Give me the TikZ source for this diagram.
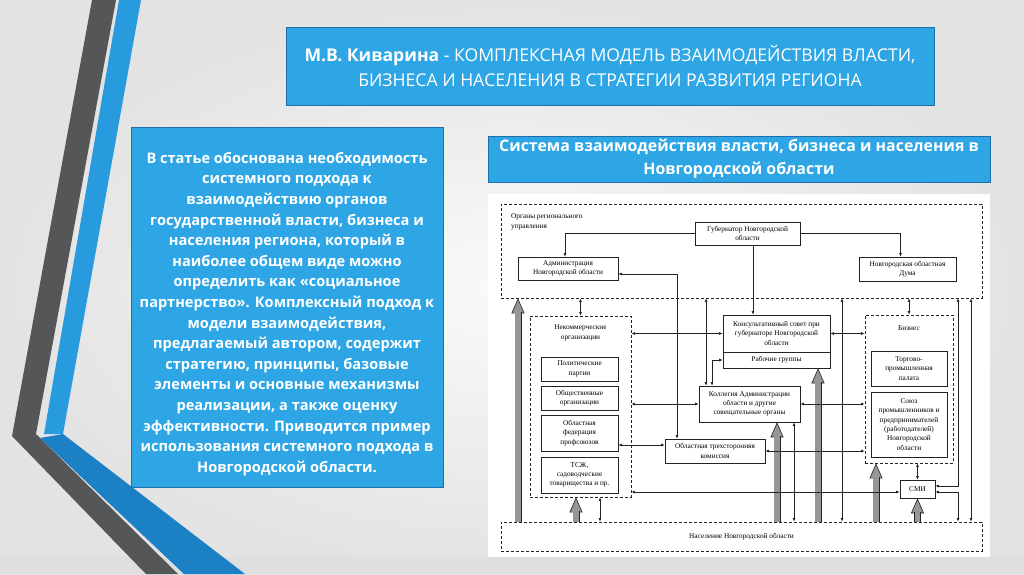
\documentclass[tikz,border=0pt]{standalone}
\usepackage{fontspec}
\setmainfont{Open Sans}
\newfontfamily\dfont{Liberation Serif}
\usetikzlibrary{arrows.meta}

\definecolor{slideblue}{RGB}{46,166,229}
\definecolor{edgeblue}{RGB}{30,110,170}
\definecolor{bandgray}{RGB}{85,86,88}
\definecolor{bandblue}{RGB}{40,155,222}
\definecolor{bandblue2}{RGB}{28,128,196}
\definecolor{arrowgray}{RGB}{150,150,150}
\definecolor{ink}{RGB}{35,35,35}

\tikzset{
  box/.style={draw=ink, line width=0.6pt, fill=white, inner sep=1pt,
    font=\dfont\fontsize{7.3}{9.3}\selectfont, align=center},
  grp/.style={draw=ink, line width=0.7pt, dash pattern=on 3pt off 2pt, inner sep=0pt},
  lbl/.style={font=\dfont\fontsize{7.3}{9.3}\selectfont, align=center, inner sep=0pt},
  lnk/.style={ink, line width=0.6pt, -{Latex[length=3.5pt,width=2.8pt]}},
  dlnk/.style={ink, line width=0.6pt, {Latex[length=3.5pt,width=2.8pt]}-{Latex[length=3.5pt,width=2.8pt]}},
  bluebox/.style={fill=slideblue, draw=edgeblue, line width=0.8pt, text=white, align=center}
}

\newcommand\fatarrow[2]{%
  \draw[ink, line width=0.6pt, -{Triangle[width=13pt,length=15pt,fill=arrowgray]}] #1 -- #2;
  \draw[ink, line width=7pt, shorten >=14pt] #1 -- #2;
  \draw[arrowgray, line width=5.6pt, shorten >=13pt] #1 -- #2;
}

\begin{document}
\begin{tikzpicture}[x=1pt,y=-1pt]
\useasboundingbox (0,0) rectangle (1024,574);
% background
\shade[inner color=gray!4, outer color=gray!22] (0,0) rectangle (1024,574);
\fill[gray!25] (0,557) rectangle (1024,574);
% side bands
\fill[bandgray] (92,0) -- (116,0) -- (36,434) -- (178,574) -- (146,574) -- (12,436) -- cycle;
\fill[bandblue] (119,0) -- (141,0) -- (63,434) -- (44,434) -- cycle;
\fill[bandblue2] (40,438) -- (63,434) -- (245,574) -- (184,574) -- cycle;

% title
\node[bluebox, minimum width=648pt, minimum height=78pt,
  font=\fontsize{17.6}{25}\selectfont] (title) at (610,66)
  {{\bfseries М.В. Киварина} - КОМПЛЕКСНАЯ МОДЕЛЬ ВЗАИМОДЕЙСТВИЯ ВЛАСТИ,\\
   БИЗНЕСА И НАСЕЛЕНИЯ В СТРАТЕГИИ РАЗВИТИЯ РЕГИОНА};

% left text
\node[bluebox, minimum width=312pt, minimum height=360pt] (abstract) at (287,307) {};
\node[text=white, align=center, font=\bfseries\fontsize{14.6}{20.6}\selectfont] (abstxt) at (287,314)
  {В статье обоснована необходимость\\
   системного подхода к\\
   взаимодействию органов\\
   государственной власти, бизнеса и\\
   населения региона, который в\\
   наиболее общем виде можно\\
   определить как «социальное\\
   партнерство». Комплексный подход к\\
   модели взаимодействия,\\
   предлагаемый автором, содержит\\
   стратегию, принципы, базовые\\
   элементы и основные механизмы\\
   реализации, а также оценку\\
   эффективности. Приводится пример\\
   использования системного подхода в\\
   Новгородской области.};

% subtitle
\node[bluebox, minimum width=502pt, minimum height=44pt,
  font=\bfseries\fontsize{15.9}{23}\selectfont] (subtitle) at (739,159)
  {Система взаимодействия власти, бизнеса и населения в\\
   Новгородской области};

% diagram sheet
\fill[white] (488,194) rectangle (990,557);

% groups
\node[grp, minimum width=481pt, minimum height=94pt] (org) at (741.5,251) {};
\node[lbl, align=left, anchor=west] (orgt) at (511,222) {Органы регионального\\управления};
\node[grp, minimum width=101pt, minimum height=181pt] (nko) at (580.5,406.5) {};
\node[lbl] (nkot) at (580.5,333) {Некоммерческие\\организации};
\node[grp, minimum width=88pt, minimum height=148pt] (biz) at (909,389) {};
\node[lbl] (bizt) at (909,328) {Бизнес};
\node[grp, minimum width=481pt, minimum height=29pt, lbl] (nas) at (741.5,536.5)
  {Население Новгородской области};

% boxes
\node[box, minimum width=105pt, minimum height=23pt] (gub) at (747.5,233.5) {Губернатор Новгородской\\области};
\node[box, minimum width=100pt, minimum height=23pt] (adm) at (568,268.5) {Администрация\\Новгородской области};
\node[box, minimum width=97pt, minimum height=24pt] (duma) at (907.5,269) {Новгородская областная\\Дума};
\node[box, minimum width=77pt, minimum height=24pt] (pol) at (579.5,369) {Политические\\партии};
\node[box, minimum width=77pt, minimum height=24pt] (obsh) at (579.5,398) {Общественные\\организации};
\node[box, minimum width=77pt, minimum height=36pt] (prof) at (579.5,433) {Областная\\федерация\\профсоюзов};
\node[box, minimum width=77pt, minimum height=36pt] (tsj) at (579.5,475) {ТСЖ,\\садоводческие\\товарищества и пр.};
\node[box, minimum width=107pt, minimum height=37pt] (kons) at (776.5,333.5) {Консультативный совет при\\губернаторе Новгородской\\области};
\node[box, minimum width=107pt, minimum height=16pt] (rab) at (776.5,360) {Рабочие группы};
\node[box, minimum width=101pt, minimum height=36pt] (koll) at (749.5,404) {Коллегия Администрации\\области и другие\\совещательные органы};
\node[box, minimum width=100pt, minimum height=24pt] (kom) at (715,451) {Областная трехсторонняя\\комиссия};
\node[box, minimum width=76pt, minimum height=35pt] (tpp) at (909,368.5) {Торгово-\\промышленная\\палата};
\node[box, minimum width=76pt, minimum height=65pt] (soyuz) at (909,424.5) {Союз\\промышленников и\\предпринимателей\\(работодателей)\\Новгородской\\области};
\node[box, minimum width=35pt, minimum height=18pt] (smi) at (917.5,489) {СМИ};

% fat arrows from the population
\fatarrow{([xshift=-223.5pt]nas.north)}{([xshift=-223.5pt]org.south)}
\fatarrow{([xshift=-4.5pt]nko.south |- nas.north)}{([xshift=-4.5pt]nko.south)}
\fatarrow{([xshift=27.5pt]koll.south |- nas.north)}{([xshift=27.5pt]koll.south)}
\fatarrow{([xshift=41.5pt]rab.south |- nas.north)}{([xshift=41.5pt]rab.south)}
\fatarrow{([xshift=-33pt]biz.south |- nas.north)}{([xshift=-33pt]biz.south)}
\fatarrow{(smi.south |- nas.north)}{(smi.south)}

% links inside the authorities
\draw[lnk] (gub.west) -| ([xshift=-3pt]adm.north);
\draw[lnk] (gub.east) -| ([xshift=-7pt]duma.north);
\draw[lnk] ([xshift=5.5pt]gub.south) -- ([xshift=5.5pt]gub.south |- kons.north);
\draw[dlnk] ([yshift=-5.5pt]adm.east) -| ([xshift=-38pt]kom.north);

% links to the authorities
\draw[dlnk] (nko.north |- org.south) -- (nko.north);
\draw[dlnk] ([xshift=-43.5pt]koll.north |- org.south) -- ([xshift=-43.5pt]koll.north);
\draw[dlnk] (rab.west) -| ([xshift=-37.5pt]koll.north);
\draw[dlnk] ([xshift=100.5pt]org.south) -- ([xshift=100.5pt]nas.north);
\draw[dlnk] (biz.north |- org.south) -- (biz.north);
\draw[dlnk] ([xshift=216.5pt]org.south) |- ([yshift=3pt]smi.east);
\draw[dlnk] ([yshift=-3pt]smi.east) -| ([xshift=216.5pt]nas.north);
\draw[dlnk] ([xshift=229.5pt]org.south) -- ([xshift=229.5pt]nas.north);

% horizontal links
\draw[dlnk] (kons.west -| nko.east) -- (kons.west);
\draw[dlnk] (koll.west -| nko.east) -- (koll.west);
\draw[dlnk] ([yshift=6pt]kom.west -| prof.east) -- ([yshift=6pt]kom.west);
\draw[dlnk] ([yshift=-3pt]smi.west -| nko.east) -- ([yshift=-3pt]smi.west);
\draw[dlnk] (kons.east) -- (kons.east -| biz.west);
\draw[dlnk] (koll.east) -- (koll.east -| biz.west);
\draw[dlnk] (kom.east) -- (kom.east -| biz.west);

% vertical links to the population
\draw[dlnk] ([xshift=44.5pt]koll.south) -- ([xshift=44.5pt]koll.south |- nas.north);
\draw[dlnk] ([xshift=19.5pt]nko.south) -- ([xshift=19.5pt]nko.south |- nas.north);
\draw[dlnk] (smi.north) -- (smi.north |- biz.south);
\end{tikzpicture}
\end{document}
